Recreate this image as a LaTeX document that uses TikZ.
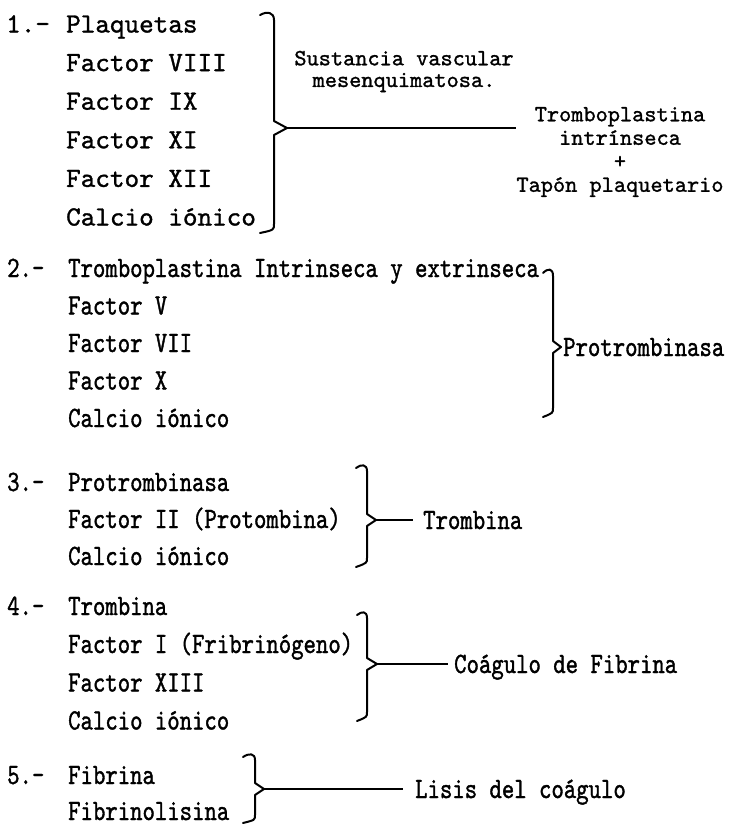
\documentclass[tikz,border=0pt]{standalone}
\usepackage{fontspec}
\usepackage{tikz}
\usetikzlibrary{positioning}
\newfontfamily\typefont[FakeBold=1.2]{lmmono10-regular.otf}
\newfontfamily\narrowfont[FakeStretch=0.80,FakeBold=1.2]{lmmono10-regular.otf}
\tikzset{
  itembig/.style={
    font=\typefont\fontsize{27.8}{30}\selectfont,
    anchor=west,
    inner sep=0pt,
    text height=17pt,
    text depth=0pt
  },
  itemnarrow/.style={
    font=\narrowfont\fontsize{29.5}{30}\selectfont,
    anchor=west,
    inner sep=0pt,
    text height=18pt,
    text depth=0pt
  },
  labelsmall/.style={
    font=\typefont\fontsize{23.2}{23.5}\selectfont,
    align=center,
    inner sep=0pt
  },
  grbrace/.style={line width=2pt,line join=round,line cap=round},
  link/.style={line width=1.6pt}
}

\begin{document}
\begin{tikzpicture}[x=1pt,y=-1pt]
  \useasboundingbox[fill=white] (0,0) rectangle (745,828);

  % 1.-
  \node[itembig] (n1) at (6,24) {1.-};
  \node[itembig] (plaq) at (66,24) {Plaquetas};
  \node[itembig] (f8) at (66,62.6) {Factor VIII};
  \node[itembig] (f9) at (66,101.2) {Factor IX};
  \node[itembig] (f11) at (66,139.8) {Factor XI};
  \node[itembig] (f12) at (66,178.4) {Factor XII};
  \node[itembig] (ca1) at (66,217) {Calcio iónico};
  \coordinate (b1) at (287,128);
  \draw[grbrace] (260,15) .. controls (267,11) and (274,12) .. (274,20) -- (274,121) -- (b1)
    -- (274,135) -- (274,224) .. controls (274,230) .. (260,233);
  \node[labelsmall,font=\typefont\fontsize{23.2}{21.7}\selectfont] (sust) at (404,71.5) {Sustancia vascular\\mesenquimatosa.};
  \node[labelsmall] (res1) at (620,152) {Tromboplastina\\intrínseca\\+\\Tapón plaquetario};
  \draw[link] (b1) -- (b1 -| res1.west);

  % 2.-
  \node[itemnarrow] (n2) at (7,268) {2.-};
  \node[itemnarrow] (trbp) at (68,268) {Tromboplastina Intrinseca y extrinseca};
  \node[itemnarrow] (f5) at (68,305.5) {Factor V};
  \node[itemnarrow] (f7) at (68,343) {Factor VII};
  \node[itemnarrow] (f10) at (68,380.5) {Factor X};
  \node[itemnarrow] (ca2) at (68,418) {Calcio iónico};
  \coordinate (b2) at (561,347);
  \draw[grbrace] (543,273) .. controls (548,268) and (553,268) .. (553,276) -- (553,341) -- (b2)
    -- (553,353) -- (553,408) .. controls (553,413) .. (543,417);
  \node[itemnarrow,right=2pt of b2] (prot2) {Protrombinasa};

  % 3.-
  \node[itemnarrow] (n3) at (7,482) {3.-};
  \node[itemnarrow] (prot) at (68,482) {Protrombinasa};
  \node[itemnarrow] (f2) at (68,519) {Factor II (Protombina)};
  \node[itemnarrow] (ca3) at (68,556) {Calcio iónico};
  \coordinate (b3) at (376,520);
  \draw[grbrace] (356,468) .. controls (361,464) and (367,464) .. (367,471) -- (367,514) -- (b3)
    -- (367,526) -- (367,558) .. controls (367,563) .. (356,567);
  \node[itemnarrow,right=47pt of b3] (tromb3) {Trombina};
  \draw[link,shorten >=10pt] (b3) -- (tromb3);

  % 4.-
  \node[itemnarrow] (n4) at (7,606) {4.-};
  \node[itemnarrow] (tromb) at (68,606) {Trombina};
  \node[itemnarrow] (f1) at (68,644) {Factor I (Fribrinógeno)};
  \node[itemnarrow] (f13) at (68,682.5) {Factor XIII};
  \node[itemnarrow] (ca4) at (68,720.5) {Calcio iónico};
  \coordinate (b4) at (377,664);
  \draw[grbrace] (357,615) .. controls (362,611) and (367,611) .. (367,618) -- (367,658) -- (b4)
    -- (367,670) -- (367,712) .. controls (367,717) .. (357,721);
  \node[itemnarrow,right=77pt of b4] (coag) {Coágulo de Fibrina};
  \draw[link,shorten >=6pt] (b4) -- (coag);

  % 5.-
  \node[itemnarrow] (n5) at (7,775) {5.-};
  \node[itemnarrow] (fibr) at (68,775) {Fibrina};
  \node[itemnarrow] (fibl) at (68,811) {Fibrinolisina};
  \coordinate (b5) at (264,789);
  \draw[grbrace] (243,757) .. controls (249,753) and (255,753) .. (255,760) -- (255,783) -- (b5)
    -- (255,795) -- (255,815) .. controls (255,820) .. (243,823);
  \node[itemnarrow,right=151pt of b5] (lisis) {Lisis del coágulo};
  \draw[link,shorten >=12pt] (b5) -- (lisis);
\end{tikzpicture}
\end{document}
